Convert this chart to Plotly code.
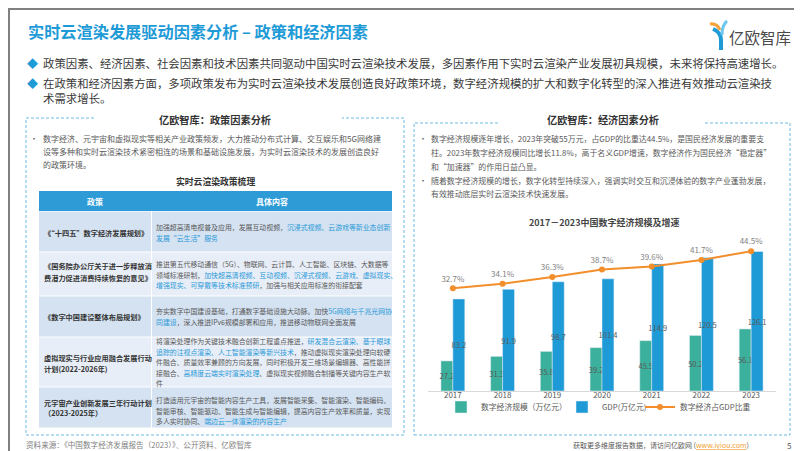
import plotly.graph_objects as go

# 图表数据
years = ["2017", "2018", "2019", "2020", "2021", "2022", "2023"]
digital_economy = [27.2, 31.3, 35.8, 39.2, 45.5, 50.2, 56.1]   # 万亿元
gdp = [83.2, 91.9, 98.7, 101.4, 114.9, 120.5, 126.1]            # 万亿元
share = [32.7, 34.1, 36.3, 38.7, 39.6, 41.7, 44.5]               # %

series_names = ["数字经济规模（万亿元）", "GDP(万亿元)", "数字经济占GDP比重"]

W, H = 802, 451
FONT = "Noto Sans CJK SC, Noto Sans, sans-serif"
BLUE = "#1e9bd7"
GREEN = "#3bb09c"
ORANGE = "#f28e2b"
TXT = "#3a3a3a"
GRAY = "#595959"


def X(px):
    return px / W


def Y(py):
    return 1 - py / H


def hl(s):
    return f"<span style='color:#2b9ad8'>{s}</span>"


# 文字内容
title = "实时云渲染发展驱动因素分析 – 政策和经济因素"
top_lines = [
    "政策因素、经济因素、社会因素和技术因素共同驱动中国实时云渲染技术发展，多因素作用下实时云渲染产业发展初具规模，未来将保持高速增长。",
    "在政策和经济因素方面，多项政策发布为实时云渲染技术发展创造良好政策环境，数字经济规模的扩大和数字化转型的深入推进有效推动云渲染技",
    "术需求增长。",
]
left_lines = [
    "数字经济、元宇宙和虚拟现实等相关产业政策频发，大力推动分布式计算、交互娱乐和5G网络建",
    "设等多种和实时云渲染技术紧密相连的场景和基础设施发展，为实时云渲染技术的发展创造良好",
    "的政策环境。",
]
right_lines = [
    ["数字经济规模逐年增长，2023年突破55万元，占GDP的比重达44.5%，是国民经济发展的重要支",
     "柱。2023年数字经济规模同比增长11.8%，高于名义GDP增速，数字经济作为国民经济“稳定器”",
     "和“加速器”的作用日益凸显。"],
    ["随着数字经济规模的增长，数字化转型持续深入，强调实时交互和沉浸体验的数字产业蓬勃发展，",
     "有效推动底层实时云渲染技术快速发展。"],
]
policies = [
    ["《“十四五”数字经济发展规划》"],
    ["《国务院办公厅关于进一步释放消", "费潜力促进消费持续恢复的意见》"],
    ["《数字中国建设整体布局规划》"],
    ["虚拟现实与行业应用融合发展行动", "计划(2022-2026年)"],
    ["元宇宙产业创新发展三年行动计划", "（2023-2025年）"],
]
contents = [
    ["加强超高清电视普及应用，发展互动视频，" + hl("沉浸式视频、云游戏等新业态创新"),
     hl("发展“云生活”服务")],
    ["推进第五代移动通信（5G）、物联网、云计算、人工智能、区块链、大数据等",
     "领域标准研制，" + hl("加快超高清视频、互动视频、沉浸式视频、云游戏、虚拟现实、"),
     hl("增强现实、可穿戴等技术标准预研") + "，加强与相关应用标准的衔接配套"],
    ["夯实数字中国建设基础，打通数字基础设施大动脉。加快" + hl("5G网络与千兆光网协"),
     hl("同建设") + "，深入推进IPv6规模部署和应用，推进移动物联网全面发展"],
    ["将渲染处理作为关键技术融合创新工程重点推进，" + hl("研发混合云渲染、基于眼球"),
     hl("追踪的注视点渲染、人工智能渲染等新兴技术") + "，推动虚拟现实渲染处理向软硬",
     "件融合、质量效率兼顾的方向发展，同时积极开发三维场景编辑器、高性能拼",
     "接融合、" + hl("高精度云端实时渲染处理") + "、虚拟现实视频融合制播等关键内容生产软",
     "件"],
    ["打造适用元宇宙的智能内容生产工具，发展智能采集、智能渲染、智能编码、",
     "智能审核、智能驱动、智能生成与智能编辑，提高内容生产效率和质量，实现",
     "多人实时协同、" + hl("端边云一体渲染的内容生产")],
]

annotations = []
shapes = []


def text(x, y, s, size, color=TXT, anchor="left"):
    annotations.append(dict(xref="paper", yref="paper", x=X(x), y=Y(y), text=s,
                            showarrow=False, xanchor=anchor, yanchor="middle",
                            font=dict(size=size, color=color, family=FONT)))


def rect(x0, y0, x1, y1, fill, line=None, dash=None, width=1):
    shapes.append(dict(type="rect", xref="paper", yref="paper",
                       x0=X(x0), x1=X(x1), y0=Y(y1), y1=Y(y0),
                       fillcolor=fill,
                       line=dict(width=width if line else 0, color=line or fill, dash=dash)))


def path(d_pts, color, width):
    # d_pts: 列表 (命令, x, y)，像素坐标
    parts = []
    for cmd, a, b in d_pts:
        parts.append(f"{cmd} {X(a):.5f},{Y(b):.5f}" if cmd else f"{X(a):.5f},{Y(b):.5f}")
    shapes.append(dict(type="path", xref="paper", yref="paper", path=" ".join(parts),
                       line=dict(color=color, width=width)))


# 外框
rect(0, 0, W, H, "rgba(0,0,0,0)", line="#808080", width=4)

# 标题和 logo
text(18, 23, f"<b>{title}</b>", 16.2, BLUE)
path([("M", 702, 16), ("Q", 709, 15), ("", 712, 22)], "#f5a33b", 3)
path([("M", 705, 21), ("Q", 713, 24), ("", 713, 32), ("L", 713, 42)], BLUE, 4)
path([("M", 719, 13), ("Q", 714, 17), ("", 714, 27)], "#6cc6ee", 3)
text(719, 29, "亿欧智库", 15.5, "#4a4a4a")

# 顶部要点
for yy in (55, 75):
    text(17, yy, "◆", 11, BLUE)
for s, yy in zip(top_lines, (55, 75, 90)):
    text(33, yy, s, 11.4, TXT)

# 左右虚线框
rect(18, 110, 396, 427, "rgba(0,0,0,0)", line="#6dbbe5", dash="3px,2px")
rect(406, 115, 782, 427, "rgba(0,0,0,0)", line="#6dbbe5", dash="3px,2px")
rect(86, 104, 334, 117, "white")
rect(490, 109, 696, 121, "white")
text(207, 112, "<b>亿欧智库：政策因素分析</b>", 10.2, "#333333", "center")
text(595, 112, "<b>亿欧智库：经济因素分析</b>", 10.2, "#333333", "center")

# 左框文字
text(20, 130, "•", 8, GRAY)
for i, s in enumerate(left_lines):
    text(33, 130 + i * 13, s, 8.0, GRAY)
text(207, 174, "<b>实时云渲染政策梳理</b>", 8.8, "#333333", "center")

# 表格
row_edges = [203, 244, 288, 329, 379, 420]
rect(31, 183, 384, 203, "#2e9bd6")
text(87, 193, "<b>政策</b>", 8, "white", "center")
text(264, 193, "<b>具体内容</b>", 8, "white", "center")
left_y = [[225], [258, 270], [309], [350, 361], [395, 405]]
right_y0 = [219, 256, 303, 333, 392]
for r in range(5):
    y0, y1 = row_edges[r], row_edges[r + 1]
    fill = "#d4e2f1" if r % 2 == 0 else "#e8eef7"
    rect(31, y0 + 0.5, 143, y1 - 0.5, fill)
    rect(144, y0 + 0.5, 384, y1 - 0.5, fill)
    for s, yy in zip(policies[r], left_y[r]):
        text(34, yy, f"<b>{s}</b>", 7.2, "#333333")
    for i, s in enumerate(contents[r]):
        text(146, right_y0[r] + i * 10.5, s, 6.9, GRAY)

# 右框文字
bullet_y = [130, 172]
for lines, by in zip(right_lines, bullet_y):
    text(409, by, "•", 8, GRAY)
    for i, s in enumerate(lines):
        text(421, by + i * 14, s, 7.9, GRAY)
text(596, 214, "<b>2017－2023中国数字经济规模及增速</b>", 9, "#444444", "center")

# 页脚
text(16, 436, "资料来源：《中国数字经济发展报告（2023）》、公开资料、亿欧智库", 7.6, "#7f7f7f")
text(563, 437, "获取更多维度报告数据，请访问亿欧网 (<span style='color:#f0a030'><u>www.iyiou.com</u></span>)", 7, GRAY)
text(781, 437, "5", 8, GRAY, "center")

# 图表
fig = go.Figure()
fig.add_trace(go.Bar(x=years, y=digital_economy, name=series_names[0], marker_color=GREEN,
                     text=digital_economy, textposition="inside", insidetextanchor="middle",
                     textangle=0, constraintext="none", legend="legend", showlegend=True,
                     textfont=dict(size=7.5, color=GRAY, family=FONT)))
fig.add_trace(go.Bar(x=years, y=gdp, name=series_names[1], marker_color=BLUE,
                     text=gdp, textposition="inside", insidetextanchor="middle",
                     textangle=0, constraintext="none", legend="legend2", showlegend=True,
                     textfont=dict(size=7.5, color=GRAY, family=FONT)))
fig.add_trace(go.Scatter(x=years, y=share, name=series_names[2], yaxis="y2",
                         mode="lines+markers+text", line=dict(color=ORANGE, width=2),
                         marker=dict(size=6, color=ORANGE), legend="legend3", showlegend=True,
                         text=[f"{v:.1f}%" for v in share], textposition="top center",
                         textfont=dict(size=8, color="#7f7f7f", family=FONT)))

leg = dict(orientation="h", y=Y(399), xanchor="left", yanchor="middle", itemwidth=30,
           font=dict(size=7.8, color=GRAY), bgcolor="rgba(0,0,0,0)")

fig.update_layout(
    width=W, height=H,
    margin=dict(l=0, r=0, t=0, b=0),
    paper_bgcolor="white", plot_bgcolor="white",
    font=dict(family=FONT),
    showlegend=True,
    barmode="group", bargap=0.52, bargroupgap=0,
    xaxis=dict(domain=[X(420), X(768)], type="category", showline=True,
               linecolor="#d9d9d9", linewidth=1, ticks="", showgrid=False,
               ticklabelstandoff=-4,
               tickfont=dict(size=8, color=GRAY)),
    yaxis=dict(domain=[Y(383), Y(230)], range=[0, 138.3], visible=False),
    yaxis2=dict(overlaying="y", range=[0, 48.7], visible=False),
    legend=dict(leg, x=X(433)),
    legend2=dict(leg, x=X(554)),
    legend3=dict(leg, x=X(632)),
    annotations=annotations,
    shapes=shapes,
)

fig.write_html("out.html")
